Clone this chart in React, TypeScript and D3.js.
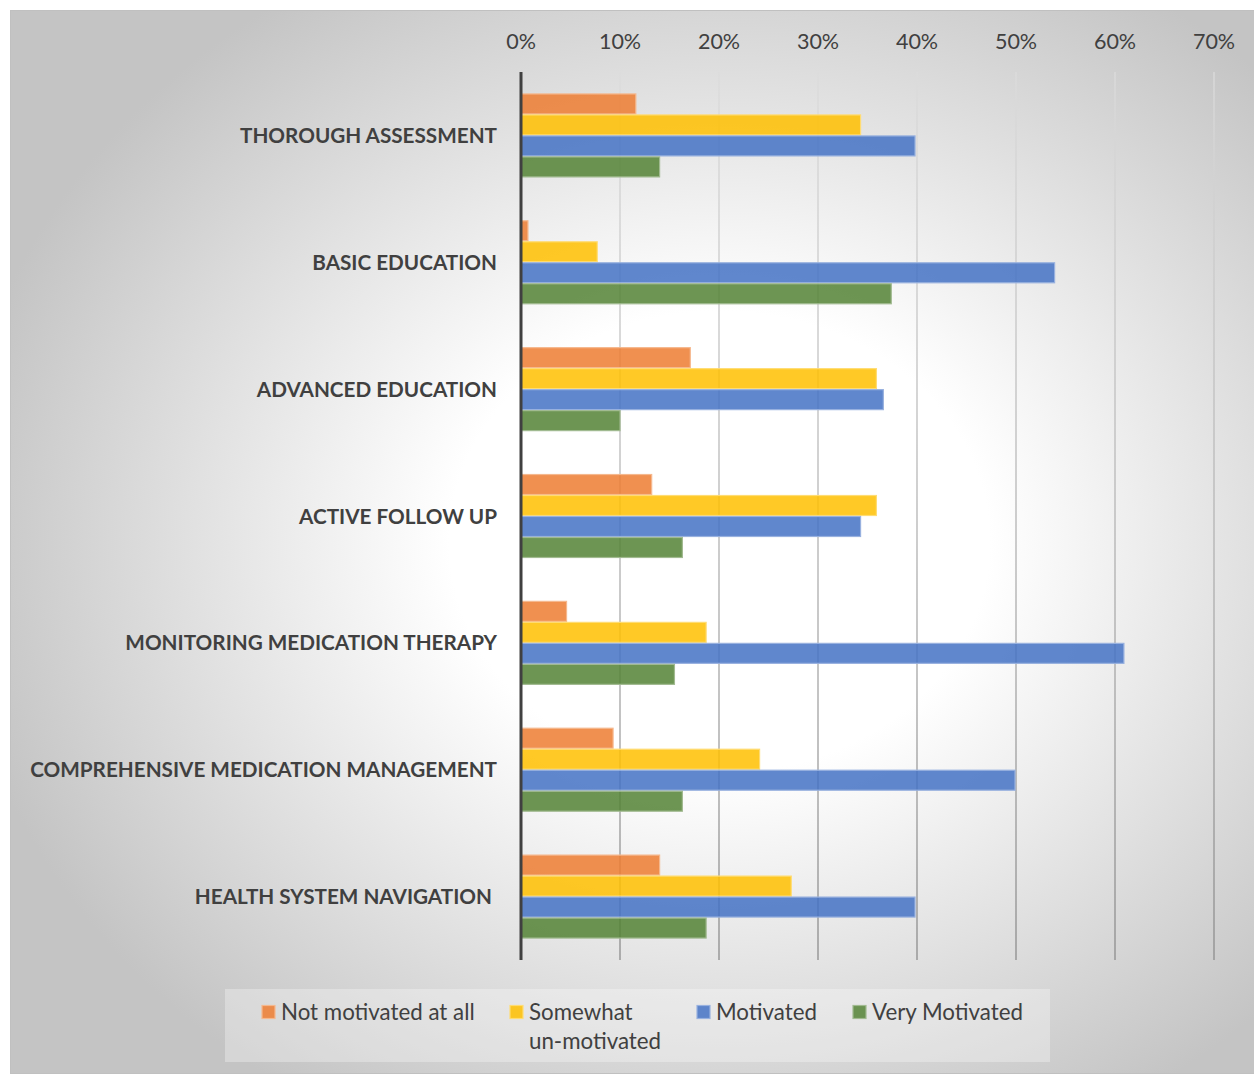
import React from "react";
import * as d3 from "d3";

const categories = [
  "THOROUGH ASSESSMENT",
  "BASIC EDUCATION",
  "ADVANCED EDUCATION",
  "ACTIVE FOLLOW UP",
  "MONITORING MEDICATION THERAPY",
  "COMPREHENSIVE MEDICATION MANAGEMENT",
  "HEALTH SYSTEM NAVIGATION ",
];
const seriesNames = ["Not motivated at all", "Somewhat un-motivated", "Motivated", "Very Motivated"];
const legendLines = [["Not motivated at all"], ["Somewhat", "un-motivated"], ["Motivated"], ["Very Motivated"]];
const seriesColors = ["#ED7D31", "#FFC000", "#4472C4", "#548235"];
const notMotivated = [11.6, 0.7, 17.1, 13.2, 4.6, 9.3, 14.0];
const somewhatUnmotivated = [34.3, 7.7, 35.9, 35.9, 18.7, 24.1, 27.3];
const motivated = [39.8, 53.9, 36.6, 34.3, 60.9, 49.9, 39.8];
const veryMotivated = [14.0, 37.4, 10.0, 16.3, 15.5, 16.3, 18.7];
const tickValues = [0, 10, 20, 30, 40, 50, 60, 70];

const seriesValues = [notMotivated, somewhatUnmotivated, motivated, veryMotivated];

export default function App() {
  const W = 1254, H = 1074;
  const x = d3.scaleLinear().domain([0, 70]).range([521, 1214]);
  const y = d3.scaleBand<string>().domain(categories).range([72, 960]).paddingInner(0.338).paddingOuter(0.169);
  const inner = d3.scaleBand<string>().domain(seriesNames).range([0, y.bandwidth()]).padding(0);
  const font = "Lato, 'Open Sans', sans-serif";
  const legendX = [262, 510, 697, 853];

  return (
    <svg width={W} height={H} style={{ position: "absolute", left: 0, top: 0 }}>
      <defs>
        <radialGradient id="bg" cx="0.57" cy="0.5" r="0.62">
          <stop offset="0" stopColor="#ffffff" />
          <stop offset="0.35" stopColor="#ffffff" />
          <stop offset="1" stopColor="#c4c4c4" />
        </radialGradient>
        <linearGradient id="grid" gradientUnits="userSpaceOnUse" x1="0" y1="72" x2="0" y2="960">
          <stop offset="0" stopColor="#dcdcdc" />
          <stop offset="1" stopColor="#8c8c8c" />
        </linearGradient>
      </defs>
      <rect x={10.5} y={10.5} width={W - 10} height={H - 11} fill="url(#bg)" stroke="#c0c0c0" strokeWidth={1} />

      {tickValues.slice(1).map((t) => (
        <line key={t} x1={x(t)} x2={x(t)} y1={72} y2={960} stroke="url(#grid)" strokeWidth={1.3} />
      ))}

      {tickValues.map((t) => (
        <text key={t} x={x(t)} y={48.5} textAnchor="middle" fontFamily={font} fontSize={21.5} fill="#404040">
          {t}%
        </text>
      ))}

      {categories.map((c, i) => (
        <g key={c} transform={`translate(0,${y(c)})`}>
          {seriesNames.map((s, j) => {
            const col = seriesColors[j];
            const light = d3.interpolateRgb(col, "#ffffff")(0.45);
            return (
              <rect
                key={s}
                x={x(0)}
                y={inner(s)! + 0.5}
                width={x(seriesValues[j][i]) - x(0)}
                height={inner.bandwidth() - 1}
                fill={col}
                fillOpacity={0.85}
                stroke={light}
                strokeWidth={1.2}
              />
            );
          })}
        </g>
      ))}

      <line x1={x(0)} x2={x(0)} y1={72} y2={960} stroke="#404040" strokeWidth={3} />

      {categories.map((c) => (
        <text
          key={c}
          x={497}
          y={y(c)! + y.bandwidth() / 2 + 7.5}
          textAnchor="end"
          fontFamily={font}
          fontWeight="bold"
          fontSize={20.7}
          fill="#404040"
          style={{ whiteSpace: "pre" }}
        >
          {c}
        </text>
      ))}

      <rect x={225} y={989} width={825} height={73} fill="#ffffff" fillOpacity={0.3} />
      {seriesNames.map((s, j) => {
        const col = seriesColors[j];
        const light = d3.interpolateRgb(col, "#ffffff")(0.45);
        return (
          <g key={s}>
            <rect x={legendX[j]} y={1005.5} width={13} height={13} fill={col} fillOpacity={0.85} stroke={light} strokeWidth={1.2} />
            {legendLines[j].map((ln, k) => (
              <text key={k} x={legendX[j] + 19} y={1019.5 + k * 29} fontFamily={font} fontSize={22.3} fill="#404040">
                {ln}
              </text>
            ))}
          </g>
        );
      })}
    </svg>
  );
}
